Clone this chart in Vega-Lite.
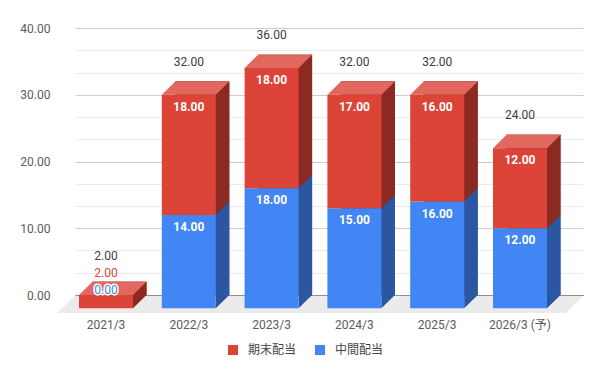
{
  "$schema": "https://vega.github.io/schema/vega-lite/v6.json",
  "width": 508,
  "height": 267,
  "autosize": {"type": "none"},
  "padding": {"left": 75, "top": 28, "right": 25, "bottom": 86},
  "background": "white",
  "config": {"view": {"stroke": null}, "font": "Roboto"},
  "data": {
    "values": [
      {"year": "2021/3", "series": "中間配当", "value": 0},
      {"year": "2021/3", "series": "期末配当", "value": 2},
      {"year": "2022/3", "series": "中間配当", "value": 14},
      {"year": "2022/3", "series": "期末配当", "value": 18},
      {"year": "2023/3", "series": "中間配当", "value": 18},
      {"year": "2023/3", "series": "期末配当", "value": 18},
      {"year": "2024/3", "series": "中間配当", "value": 15},
      {"year": "2024/3", "series": "期末配当", "value": 17},
      {"year": "2025/3", "series": "中間配当", "value": 16},
      {"year": "2025/3", "series": "期末配当", "value": 16},
      {"year": "2026/3 (予)", "series": "中間配当", "value": 12},
      {"year": "2026/3 (予)", "series": "期末配当", "value": 12}
    ]
  },
  "transform": [
    {"stack": "value", "groupby": ["year"], "sort": [{"field": "series", "order": "ascending"}], "as": ["s0", "s1"]},
    {"joinaggregate": [{"op": "sum", "field": "value", "as": "total"}], "groupby": ["year"]}
  ],
  "layer": [
    {
      "mark": {"type": "bar"},
      "encoding": {
        "x": {"field": "year", "type": "nominal", "sort": null,
          "scale": {"paddingInner": 0.3478, "paddingOuter": 0.2415, "align": 0.4375},
          "axis": {"title": null, "domain": false, "ticks": false, "grid": false, "labelPadding": 24, "labelOffset": -13.5, "labelFontSize": 12, "labelColor": "#5b5b5b", "labelAngle": 0, "labelFont": "Roboto, Noto Sans CJK JP"}},
        "y": {"field": "s1", "type": "quantitative", "scale": {"domain": [0, 40], "nice": false},
          "axis": {"title": null, "domain": false, "ticks": false, "grid": true, "labelPadding": 25, "labelFontSize": 12, "labelColor": "#5b5b5b", "labelOverlap": false, "values": [0, 3.333333, 6.666667, 10, 13.333333, 16.666667, 20, 23.333333, 26.666667, 30, 33.333333, 36.666667, 40], "format": ".2f", "labelExpr": "datum.value % 10 === 0 ? datum.label : ''", "gridColor": {"condition": [{"test": "datum.value === 0", "value": "#333333"}, {"test": "datum.value % 10 === 0", "value": "#cccccc"}], "value": "#ebebeb"}}},
        "y2": {"field": "s0"},
        "fill": {"condition": {"test": "datum.series === '期末配当'", "value": "#8c2a22"}, "value": "#2b57a2"}
      }
    },
    {
      "transform": [{"filter": "datum.year === '2022/3' && datum.series === '期末配当'"}],
      "mark": {"type": "point", "filled": true, "shape": "M -254 0.6 L 254 0.6 L 237 18 L -272 18 Z", "size": 4, "fill": "#ebebeb", "opacity": 1, "strokeWidth": 0},
      "encoding": {
        "y": {"datum": 0, "type": "quantitative",
          "axis": {"title": null, "domain": false, "ticks": false, "grid": true, "labelPadding": 25, "labelFontSize": 12, "labelColor": "#5b5b5b", "labelOverlap": false, "values": [0, 3.333333, 6.666667, 10, 13.333333, 16.666667, 20, 23.333333, 26.666667, 30, 33.333333, 36.666667, 40], "format": ".2f", "labelExpr": "datum.value % 10 === 0 ? datum.label : ''", "gridColor": {"condition": [{"test": "datum.value === 0", "value": "#333333"}, {"test": "datum.value % 10 === 0", "value": "#cccccc"}], "value": "#ebebeb"}}}
      }
    },
    {
      "mark": {"type": "bar"},
      "encoding": {
        "x": {"field": "year", "type": "nominal", "sort": null,
          "axis": {"title": null, "domain": false, "ticks": false, "grid": false, "labelPadding": 24, "labelOffset": -13.5, "labelFontSize": 12, "labelColor": "#5b5b5b", "labelAngle": 0, "labelFont": "Roboto, Noto Sans CJK JP"}},
        "y": {"field": "s1", "type": "quantitative",
          "axis": {"title": null, "domain": false, "ticks": false, "grid": true, "labelPadding": 25, "labelFontSize": 12, "labelColor": "#5b5b5b", "labelOverlap": false, "values": [0, 3.333333, 6.666667, 10, 13.333333, 16.666667, 20, 23.333333, 26.666667, 30, 33.333333, 36.666667, 40], "format": ".2f", "labelExpr": "datum.value % 10 === 0 ? datum.label : ''", "gridColor": {"condition": [{"test": "datum.value === 0", "value": "#333333"}, {"test": "datum.value % 10 === 0", "value": "#cccccc"}], "value": "#ebebeb"}}},
        "y2": {"field": "s0"},
        "fill": {"condition": {"test": "datum.series === '期末配当'", "value": "#8c2a22"}, "value": "#2b57a2"}
      }
    },
    {
      "transform": [{"filter": "datum.value > 0"}],
      "mark": {"type": "point", "filled": true, "shape": "M 13.5 0 L 13.5 13.35 L 27 0 Z", "size": 4, "opacity": 1, "strokeWidth": 0},
      "encoding": {
        "x": {"field": "year", "type": "nominal", "sort": null,
          "axis": {"title": null, "domain": false, "ticks": false, "grid": false, "labelPadding": 24, "labelOffset": -13.5, "labelFontSize": 12, "labelColor": "#5b5b5b", "labelAngle": 0, "labelFont": "Roboto, Noto Sans CJK JP"}},
        "y": {"field": "s0", "type": "quantitative",
          "axis": {"title": null, "domain": false, "ticks": false, "grid": true, "labelPadding": 25, "labelFontSize": 12, "labelColor": "#5b5b5b", "labelOverlap": false, "values": [0, 3.333333, 6.666667, 10, 13.333333, 16.666667, 20, 23.333333, 26.666667, 30, 33.333333, 36.666667, 40], "format": ".2f", "labelExpr": "datum.value % 10 === 0 ? datum.label : ''", "gridColor": {"condition": [{"test": "datum.value === 0", "value": "#333333"}, {"test": "datum.value % 10 === 0", "value": "#cccccc"}], "value": "#ebebeb"}}},
        "fill": {"condition": {"test": "datum.series === '期末配当'", "value": "#8c2a22"}, "value": "#2b57a2"}
      }
    },
    {
      "transform": [{"filter": "datum.series === '期末配当'"}],
      "mark": {"type": "point", "filled": true, "shape": "M -40.5 13.35 L 13.5 13.35 L 27 0 L -27 0 Z", "size": 4, "opacity": 1, "strokeWidth": 0, "fill": "#e2685f"},
      "encoding": {
        "x": {"field": "year", "type": "nominal", "sort": null,
          "axis": {"title": null, "domain": false, "ticks": false, "grid": false, "labelPadding": 24, "labelOffset": -13.5, "labelFontSize": 12, "labelColor": "#5b5b5b", "labelAngle": 0, "labelFont": "Roboto, Noto Sans CJK JP"}},
        "y": {"field": "s1", "type": "quantitative",
          "axis": {"title": null, "domain": false, "ticks": false, "grid": true, "labelPadding": 25, "labelFontSize": 12, "labelColor": "#5b5b5b", "labelOverlap": false, "values": [0, 3.333333, 6.666667, 10, 13.333333, 16.666667, 20, 23.333333, 26.666667, 30, 33.333333, 36.666667, 40], "format": ".2f", "labelExpr": "datum.value % 10 === 0 ? datum.label : ''", "gridColor": {"condition": [{"test": "datum.value === 0", "value": "#333333"}, {"test": "datum.value % 10 === 0", "value": "#cccccc"}], "value": "#ebebeb"}}}
      }
    },
    {
      "mark": {"type": "bar", "xOffset": -13.5, "yOffset": 13.35, "y2Offset": 13.35},
      "encoding": {
        "x": {"field": "year", "type": "nominal", "sort": null,
          "axis": {"title": null, "domain": false, "ticks": false, "grid": false, "labelPadding": 24, "labelOffset": -13.5, "labelFontSize": 12, "labelColor": "#5b5b5b", "labelAngle": 0, "labelFont": "Roboto, Noto Sans CJK JP"}},
        "y": {"field": "s1", "type": "quantitative",
          "axis": {"title": null, "domain": false, "ticks": false, "grid": true, "labelPadding": 25, "labelFontSize": 12, "labelColor": "#5b5b5b", "labelOverlap": false, "values": [0, 3.333333, 6.666667, 10, 13.333333, 16.666667, 20, 23.333333, 26.666667, 30, 33.333333, 36.666667, 40], "format": ".2f", "labelExpr": "datum.value % 10 === 0 ? datum.label : ''", "gridColor": {"condition": [{"test": "datum.value === 0", "value": "#333333"}, {"test": "datum.value % 10 === 0", "value": "#cccccc"}], "value": "#ebebeb"}}},
        "y2": {"field": "s0"},
        "fill": {"field": "series", "type": "nominal",
          "scale": {"domain": ["期末配当", "中間配当"], "range": ["#db4437", "#4285f4"]},
          "legend": {"title": null, "orient": "none", "legendX": 152, "legendY": 316, "direction": "horizontal", "symbolType": "square", "symbolSize": 100, "symbolStrokeWidth": 0, "labelFontSize": 12, "labelFont": "Noto Sans CJK JP", "labelColor": "#444444", "columnPadding": 17, "labelOffset": 9, "padding": 0}}
      }
    },
    {
      "transform": [{"filter": "datum.value >= 5"}],
      "mark": {"type": "text", "color": "#ffffff", "fontSize": 12, "fontWeight": "bold", "baseline": "middle", "dx": -13.5, "dy": 25.35},
      "encoding": {
        "x": {"field": "year", "type": "nominal", "sort": null,
          "axis": {"title": null, "domain": false, "ticks": false, "grid": false, "labelPadding": 24, "labelOffset": -13.5, "labelFontSize": 12, "labelColor": "#5b5b5b", "labelAngle": 0, "labelFont": "Roboto, Noto Sans CJK JP"}},
        "y": {"field": "s1", "type": "quantitative",
          "axis": {"title": null, "domain": false, "ticks": false, "grid": true, "labelPadding": 25, "labelFontSize": 12, "labelColor": "#5b5b5b", "labelOverlap": false, "values": [0, 3.333333, 6.666667, 10, 13.333333, 16.666667, 20, 23.333333, 26.666667, 30, 33.333333, 36.666667, 40], "format": ".2f", "labelExpr": "datum.value % 10 === 0 ? datum.label : ''", "gridColor": {"condition": [{"test": "datum.value === 0", "value": "#333333"}, {"test": "datum.value % 10 === 0", "value": "#cccccc"}], "value": "#ebebeb"}}},
        "text": {"field": "value", "type": "quantitative", "format": ".2f"}
      }
    },
    {
      "transform": [{"filter": "datum.series === '期末配当' && datum.year !== '2021/3'"}],
      "mark": {"type": "text", "color": "#3c3c3c", "fontSize": 12, "baseline": "middle", "dx": -13.5, "dy": -19.7},
      "encoding": {
        "x": {"field": "year", "type": "nominal", "sort": null,
          "axis": {"title": null, "domain": false, "ticks": false, "grid": false, "labelPadding": 24, "labelOffset": -13.5, "labelFontSize": 12, "labelColor": "#5b5b5b", "labelAngle": 0, "labelFont": "Roboto, Noto Sans CJK JP"}},
        "y": {"field": "s1", "type": "quantitative",
          "axis": {"title": null, "domain": false, "ticks": false, "grid": true, "labelPadding": 25, "labelFontSize": 12, "labelColor": "#5b5b5b", "labelOverlap": false, "values": [0, 3.333333, 6.666667, 10, 13.333333, 16.666667, 20, 23.333333, 26.666667, 30, 33.333333, 36.666667, 40], "format": ".2f", "labelExpr": "datum.value % 10 === 0 ? datum.label : ''", "gridColor": {"condition": [{"test": "datum.value === 0", "value": "#333333"}, {"test": "datum.value % 10 === 0", "value": "#cccccc"}], "value": "#ebebeb"}}},
        "text": {"field": "total", "type": "quantitative", "format": ".2f"}
      }
    },
    {
      "transform": [{"filter": "datum.series === '期末配当' && datum.year === '2021/3'"}],
      "mark": {"type": "text", "color": "#3c3c3c", "fontSize": 12, "baseline": "middle", "dx": -13.5, "dy": -25.65},
      "encoding": {
        "x": {"field": "year", "type": "nominal", "sort": null,
          "axis": {"title": null, "domain": false, "ticks": false, "grid": false, "labelPadding": 24, "labelOffset": -13.5, "labelFontSize": 12, "labelColor": "#5b5b5b", "labelAngle": 0, "labelFont": "Roboto, Noto Sans CJK JP"}},
        "y": {"field": "s1", "type": "quantitative",
          "axis": {"title": null, "domain": false, "ticks": false, "grid": true, "labelPadding": 25, "labelFontSize": 12, "labelColor": "#5b5b5b", "labelOverlap": false, "values": [0, 3.333333, 6.666667, 10, 13.333333, 16.666667, 20, 23.333333, 26.666667, 30, 33.333333, 36.666667, 40], "format": ".2f", "labelExpr": "datum.value % 10 === 0 ? datum.label : ''", "gridColor": {"condition": [{"test": "datum.value === 0", "value": "#333333"}, {"test": "datum.value % 10 === 0", "value": "#cccccc"}], "value": "#ebebeb"}}},
        "text": {"field": "total", "type": "quantitative", "format": ".2f"}
      }
    },
    {
      "transform": [{"filter": "datum.series === '期末配当' && datum.year === '2021/3'"}],
      "mark": {"type": "text", "color": "#db4437", "fontSize": 12, "baseline": "middle", "dx": -13.5, "dy": -8.65},
      "encoding": {
        "x": {"field": "year", "type": "nominal", "sort": null,
          "axis": {"title": null, "domain": false, "ticks": false, "grid": false, "labelPadding": 24, "labelOffset": -13.5, "labelFontSize": 12, "labelColor": "#5b5b5b", "labelAngle": 0, "labelFont": "Roboto, Noto Sans CJK JP"}},
        "y": {"field": "s1", "type": "quantitative",
          "axis": {"title": null, "domain": false, "ticks": false, "grid": true, "labelPadding": 25, "labelFontSize": 12, "labelColor": "#5b5b5b", "labelOverlap": false, "values": [0, 3.333333, 6.666667, 10, 13.333333, 16.666667, 20, 23.333333, 26.666667, 30, 33.333333, 36.666667, 40], "format": ".2f", "labelExpr": "datum.value % 10 === 0 ? datum.label : ''", "gridColor": {"condition": [{"test": "datum.value === 0", "value": "#333333"}, {"test": "datum.value % 10 === 0", "value": "#cccccc"}], "value": "#ebebeb"}}},
        "text": {"field": "value", "type": "quantitative", "format": ".2f"}
      }
    },
    {
      "transform": [{"filter": "datum.series === '中間配当' && datum.year === '2021/3'"}],
      "mark": {"type": "text", "color": "#ffffff", "stroke": "#ffffff", "strokeWidth": 3, "strokeJoin": "round", "fontSize": 12, "baseline": "middle", "dx": -13.5, "dy": -5},
      "encoding": {
        "x": {"field": "year", "type": "nominal", "sort": null,
          "axis": {"title": null, "domain": false, "ticks": false, "grid": false, "labelPadding": 24, "labelOffset": -13.5, "labelFontSize": 12, "labelColor": "#5b5b5b", "labelAngle": 0, "labelFont": "Roboto, Noto Sans CJK JP"}},
        "y": {"field": "s1", "type": "quantitative",
          "axis": {"title": null, "domain": false, "ticks": false, "grid": true, "labelPadding": 25, "labelFontSize": 12, "labelColor": "#5b5b5b", "labelOverlap": false, "values": [0, 3.333333, 6.666667, 10, 13.333333, 16.666667, 20, 23.333333, 26.666667, 30, 33.333333, 36.666667, 40], "format": ".2f", "labelExpr": "datum.value % 10 === 0 ? datum.label : ''", "gridColor": {"condition": [{"test": "datum.value === 0", "value": "#333333"}, {"test": "datum.value % 10 === 0", "value": "#cccccc"}], "value": "#ebebeb"}}},
        "text": {"field": "value", "type": "quantitative", "format": ".2f"}
      }
    },
    {
      "transform": [{"filter": "datum.series === '中間配当' && datum.year === '2021/3'"}],
      "mark": {"type": "text", "color": "#4285f4", "fontSize": 12, "baseline": "middle", "dx": -13.5, "dy": -5},
      "encoding": {
        "x": {"field": "year", "type": "nominal", "sort": null,
          "axis": {"title": null, "domain": false, "ticks": false, "grid": false, "labelPadding": 24, "labelOffset": -13.5, "labelFontSize": 12, "labelColor": "#5b5b5b", "labelAngle": 0, "labelFont": "Roboto, Noto Sans CJK JP"}},
        "y": {"field": "s1", "type": "quantitative",
          "axis": {"title": null, "domain": false, "ticks": false, "grid": true, "labelPadding": 25, "labelFontSize": 12, "labelColor": "#5b5b5b", "labelOverlap": false, "values": [0, 3.333333, 6.666667, 10, 13.333333, 16.666667, 20, 23.333333, 26.666667, 30, 33.333333, 36.666667, 40], "format": ".2f", "labelExpr": "datum.value % 10 === 0 ? datum.label : ''", "gridColor": {"condition": [{"test": "datum.value === 0", "value": "#333333"}, {"test": "datum.value % 10 === 0", "value": "#cccccc"}], "value": "#ebebeb"}}},
        "text": {"field": "value", "type": "quantitative", "format": ".2f"}
      }
    }
  ]
}
